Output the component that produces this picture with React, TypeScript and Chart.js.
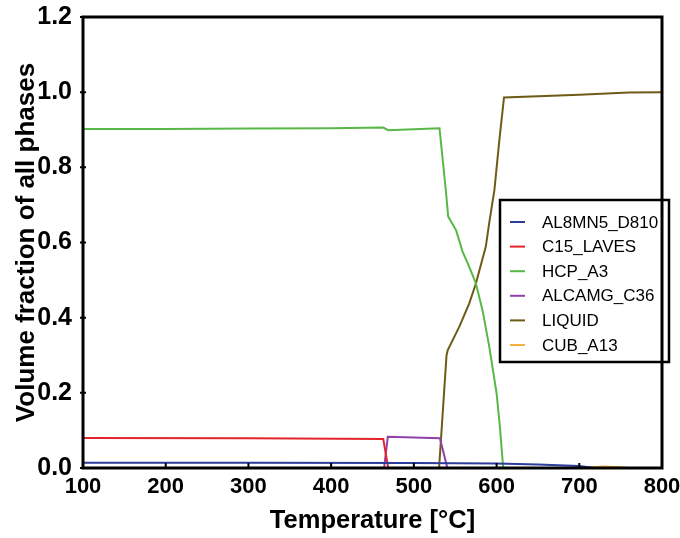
import React, { useEffect, useRef } from "react";
import { Chart, registerables } from "chart.js";

Chart.register(...registerables);

const xTicks = [100, 200, 300, 400, 500, 600, 700, 800];
const yTicks = [0, 0.2, 0.4, 0.6, 0.8, 1.0, 1.2];

const seriesNames = ["AL8MN5_D810", "C15_LAVES", "HCP_A3", "ALCAMG_C36", "LIQUID", "CUB_A13"];
const seriesColors = ["#2b3c9a", "#e3242b", "#58b847", "#9140a9", "#6e5b16", "#f5b041"];

const al8mn5T = [100, 300, 500, 600, 650, 700, 718, 800];
const al8mn5V = [0.014, 0.014, 0.013, 0.012, 0.009, 0.005, 0, 0];

const c15T = [100, 300, 463, 469, 800];
const c15V = [0.08, 0.079, 0.077, 0, 0];

const hcpT = [100, 200, 300, 400, 463, 469, 500, 531, 539, 541.5, 551, 559, 567, 575, 583, 591, 600, 604, 608, 800];
const hcpV = [0.902, 0.902, 0.903, 0.904, 0.906, 0.899, 0.901, 0.904, 0.731, 0.669, 0.633, 0.575, 0.535, 0.491, 0.42, 0.325, 0.199, 0.11, 0, 0];

const alcamgT = [100, 464, 468.5, 500, 531.5, 540.5, 800];
const alcamgV = [0, 0, 0.083, 0.081, 0.079, 0, 0];

const liquidT = [100, 530.5, 539.5, 541, 555, 567, 575, 587, 591.3, 597.4, 603.4, 609, 700, 760, 800];
const liquidV = [0, 0, 0.3, 0.314, 0.376, 0.438, 0.491, 0.589, 0.655, 0.74, 0.873, 0.986, 0.993, 0.999, 1.0];

const cubT = [100, 700, 715, 730, 750, 760, 800];
const cubV = [0, 0, 0.002, 0.004, 0.002, 0, 0];

const seriesT = [al8mn5T, c15T, hcpT, alcamgT, liquidT, cubT];
const seriesV = [al8mn5V, c15V, hcpV, alcamgV, liquidV, cubV];

const FONT = "'Liberation Sans', Arial, sans-serif";

const framePlugin = {
  id: "framePlugin",
  afterDatasetsDraw(chart: any) {
    const { ctx, chartArea } = chart;
    const { left, right, top, bottom } = chartArea;
    const xs = chart.scales.x;
    const ys = chart.scales.y;
    ctx.save();
    ctx.strokeStyle = "#000";
    ctx.lineWidth = 2;
    ctx.beginPath();
    xTicks.forEach((t) => {
      const px = xs.getPixelForValue(t);
      ctx.moveTo(px, bottom);
      ctx.lineTo(px, bottom - 5);
    });
    yTicks.forEach((t) => {
      const py = ys.getPixelForValue(t);
      ctx.moveTo(left - 3, py);
      ctx.lineTo(left + 3, py);
    });
    ctx.stroke();
    ctx.lineWidth = 3;
    ctx.strokeRect(left, top, right - left, bottom - top);
    ctx.restore();
  },
  afterDraw(chart: any) {
    const { ctx } = chart;
    const bx = 500, by = 200, bw = 169, bh = 162;
    ctx.save();
    ctx.fillStyle = "#fff";
    ctx.fillRect(bx, by, bw, bh);
    ctx.strokeStyle = "#000";
    ctx.lineWidth = 2.5;
    ctx.strokeRect(bx, by, bw, bh);
    ctx.beginPath();
    ctx.lineWidth = 3;
    ctx.moveTo(chart.chartArea.right, by);
    ctx.lineTo(chart.chartArea.right, by + bh);
    ctx.stroke();
    ctx.font = `17px ${FONT}`;
    ctx.textBaseline = "middle";
    ctx.textAlign = "left";
    chart.data.datasets.forEach((ds: any, i: number) => {
      const y = 222 + i * 24.6;
      ctx.strokeStyle = ds.borderColor;
      ctx.lineWidth = 2;
      ctx.beginPath();
      ctx.moveTo(510, y);
      ctx.lineTo(525, y);
      ctx.stroke();
      ctx.fillStyle = "#000";
      ctx.fillText(ds.label, 542, y + 1);
    });
    ctx.restore();
  },
};

export default function App() {
  const ref = useRef<HTMLCanvasElement | null>(null);
  useEffect(() => {
    if (!ref.current) return;
    const datasets = seriesNames.map((name, i) => ({
      label: name,
      data: seriesT[i].map((t, j) => ({ x: t, y: seriesV[i][j] })),
      borderColor: seriesColors[i],
      backgroundColor: seriesColors[i],
      borderWidth: 2,
      pointRadius: 0,
      tension: 0,
      fill: false,
      showLine: true,
    }));
    const chart = new Chart(ref.current, {
      type: "scatter",
      data: { datasets },
      options: {
        animation: false,
        responsive: false,
        maintainAspectRatio: false,
        layout: { padding: { top: 17, right: 18, left: 0, bottom: 0 } },
        plugins: { legend: { display: false }, tooltip: { enabled: false } },
        scales: {
          x: {
            type: "linear",
            min: 100,
            max: 800,
            afterBuildTicks: (s: any) => {
              s.ticks = xTicks.map((v) => ({ value: v }));
            },
            afterFit: (s: any) => {
              s.height = 70;
              s.paddingLeft = 0;
              s.paddingRight = 0;
            },
            grid: { display: false, drawTicks: false },
            border: { display: false },
            ticks: {
              color: "#000",
              font: { family: FONT, size: 22, weight: "bold" },
              padding: 6,
              maxRotation: 0,
              callback: (v: any) => String(v),
            },
            title: {
              display: true,
              text: "Temperature [°C]",
              color: "#000",
              font: { family: FONT, size: 25.5, weight: "bold" },
              padding: { top: 0, bottom: 2 },
            },
          },
          y: {
            type: "linear",
            min: 0,
            max: 1.2,
            afterBuildTicks: (s: any) => {
              s.ticks = yTicks.map((v) => ({ value: v }));
            },
            afterFit: (s: any) => {
              s.width = 83;
              s.paddingTop = 0;
              s.paddingBottom = 0;
            },
            grid: { display: false, drawTicks: false },
            border: { display: false },
            ticks: {
              color: "#000",
              font: { family: FONT, size: 25, weight: "bold" },
              padding: 11,
              callback: (v: any) => Number(v).toFixed(1),
            },
            title: {
              display: true,
              text: "Volume fraction of all phases",
              color: "#000",
              font: { family: FONT, size: 26, weight: "bold" },
              padding: { top: 11, bottom: 0 },
            },
          },
        },
      },
      plugins: [framePlugin],
    });
    return () => chart.destroy();
  }, []);
  return (
    <div style={{ position: "fixed", left: 0, top: 0, width: 680, height: 538, background: "#fff" }}>
      <canvas ref={ref} width={680} height={538} />
    </div>
  );
}
